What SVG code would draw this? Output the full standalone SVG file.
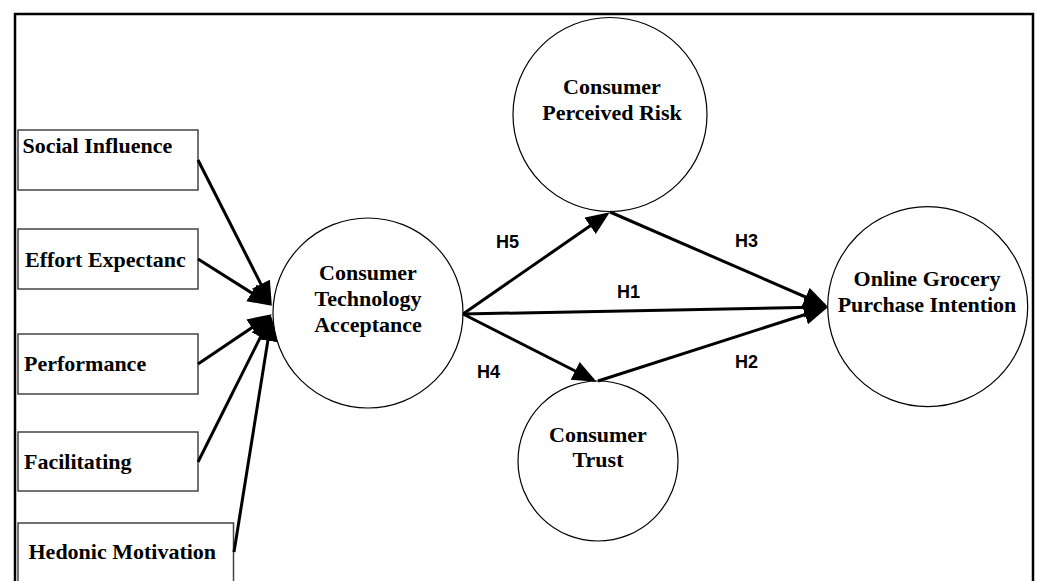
<svg xmlns="http://www.w3.org/2000/svg" width="1038" height="581" viewBox="0 0 1038 581">
<style>
.box{fill:#fff;stroke:#444;stroke-width:1.5}
.circ{fill:#fff;stroke:#000;stroke-width:1.2}
.lbl{font-family:"Liberation Serif","Times New Roman",serif;font-weight:bold;font-size:22px;fill:#000}
.mid{text-anchor:middle}
.h{font-family:"Liberation Sans",Arial,sans-serif;font-weight:bold;font-size:18px;fill:#000}
.conn{fill:none;stroke:#000;stroke-width:3}
</style>
<defs>
<marker id="ah" markerUnits="userSpaceOnUse" markerWidth="26" markerHeight="22" refX="20" refY="10" orient="auto">
<path d="M0,0 L24,10 L0,20 z" fill="#000"/>
</marker>
</defs>
<rect x="0" y="0" width="1038" height="581" fill="#fff"/>
<path d="M15,581 L15,14 L1033,14 L1033,581" fill="none" stroke="#000" stroke-width="2.5"/>

<g id="social-influence">
<rect class="box" x="18" y="130" width="180" height="60"/>
<text class="lbl" x="22.5" y="153">Social Influence</text>
</g>
<g id="effort-expectancy">
<rect class="box" x="18" y="229" width="180" height="60"/>
<text class="lbl" x="25" y="266.5">Effort Expectanc</text>
</g>
<g id="performance">
<rect class="box" x="18" y="334" width="180" height="60"/>
<text class="lbl" x="24" y="371">Performance</text>
</g>
<g id="facilitating">
<rect class="box" x="18" y="432" width="180" height="59"/>
<text class="lbl" x="24" y="468.5">Facilitating</text>
</g>
<g id="hedonic-motivation">
<rect class="box" x="18" y="523" width="215.5" height="70"/>
<text class="lbl" x="28.5" y="559">Hedonic Motivation</text>
</g>

<g id="consumer-technology-acceptance">
<circle class="circ" cx="368" cy="313" r="95"/>
<text class="lbl mid" x="368" y="280">Consumer</text>
<text class="lbl mid" x="368" y="306">Technology</text>
<text class="lbl mid" x="368" y="332">Acceptance</text>
</g>
<g id="consumer-perceived-risk">
<circle class="circ" cx="610" cy="114.5" r="97"/>
<text class="lbl mid" x="612" y="93.5">Consumer</text>
<text class="lbl mid" x="612" y="120">Perceived Risk</text>
</g>
<g id="consumer-trust">
<circle class="circ" cx="598" cy="461" r="80"/>
<text class="lbl mid" x="598" y="442">Consumer</text>
<text class="lbl mid" x="598" y="467">Trust</text>
</g>
<g id="online-grocery-purchase-intention">
<circle class="circ" cx="927.7" cy="306.7" r="100"/>
<text class="lbl mid" x="927" y="285.5">Online Grocery</text>
<text class="lbl mid" x="927" y="312">Purchase Intention</text>
</g>

<g id="connectors">
<line class="conn" x1="198" y1="160" x2="270" y2="302" marker-end="url(#ah)"/>
<line class="conn" x1="198" y1="259" x2="268.5" y2="303.5" marker-end="url(#ah)"/>
<line class="conn" x1="198" y1="364" x2="268.5" y2="316.5" marker-end="url(#ah)"/>
<line class="conn" x1="198" y1="462" x2="269.5" y2="319" marker-end="url(#ah)"/>
<line class="conn" x1="234" y1="552" x2="271" y2="321" marker-end="url(#ah)"/>
<line class="conn" x1="463" y1="314" x2="606.5" y2="214.5" marker-end="url(#ah)"/>
<line class="conn" x1="610" y1="212" x2="824" y2="305" marker-end="url(#ah)"/>
<line class="conn" x1="463" y1="314" x2="824" y2="307" marker-end="url(#ah)"/>
<line class="conn" x1="598" y1="381" x2="824" y2="308.5" marker-end="url(#ah)"/>
<line class="conn" x1="463" y1="314" x2="593" y2="380" marker-end="url(#ah)"/>
<text class="h" x="496" y="247.5">H5</text>
<text class="h" x="617" y="298">H1</text>
<text class="h" x="735" y="247">H3</text>
<text class="h" x="735" y="368">H2</text>
<text class="h" x="477" y="378">H4</text>
</g>
</svg>
